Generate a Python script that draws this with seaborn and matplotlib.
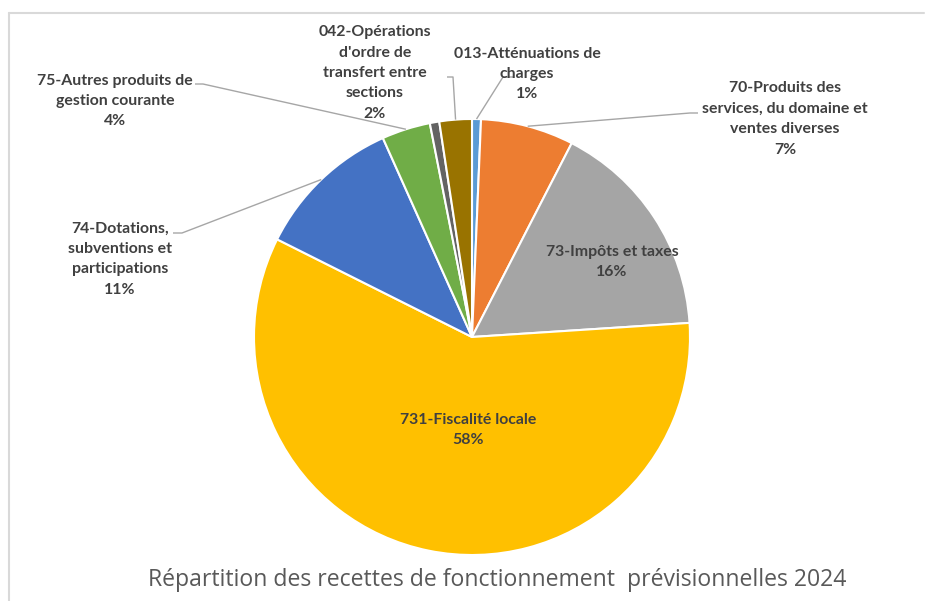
import numpy as np
import matplotlib
matplotlib.use("Agg")
import matplotlib.pyplot as plt
from matplotlib.lines import Line2D
import seaborn as sns

# data (shares of total, %)
categories = [
    "013-Atténuations de\ncharges",
    "70-Produits des\nservices, du domaine et\nventes diverses",
    "73-Impôts et taxes",
    "731-Fiscalité locale",
    "74-Dotations,\nsubventions et\nparticipations",
    "75-Autres produits de\ngestion courante",
    "",  # thin unlabeled slice
    "042-Opérations\nd'ordre de\ntransfert entre\nsections",
]
values = [0.66, 6.9, 16.4, 58.4, 10.9, 3.6, 0.7, 2.4]
colors = ["#5B9BD5", "#ED7D31", "#A5A5A5", "#FFC000",
          "#4472C4", "#70AD47", "#636363", "#997300"]
title = "Répartition des recettes de fonctionnement  prévisionnelles 2024"

# layout (pixels in the 925x601 image)
W, H = 925, 601
CX, CY, R = 472, 337, 218
label_pos = [(527, 74), (785, 119), (612, 262), (468, 430),
             (120, 259), (115, 101), None, (375, 73)]
# leader lines: (start, elbow) or None for labels inside the pie
leaders = [((513, 77), (503, 77)), ((698, 113), (690, 113)), None, None,
           ((173, 233), (182, 233)), ((195, 84), (203, 84)), None,
           ((447, 77), (453, 77))]


def px(p):
    return ((p[0] - CX) / R, (CY - p[1]) / R)


sns.set_theme(style="white")
plt.rcParams["font.family"] = ["Lato", "DejaVu Sans"]

fig = plt.figure(figsize=(W / 100, H / 100), dpi=100)
ax = fig.add_axes([(CX - R) / W, (H - CY - R) / H, 2 * R / W, 2 * R / H])

wedges, _ = ax.pie(values, colors=colors, startangle=90, counterclock=False,
                   radius=1.0, wedgeprops=dict(edgecolor="white", linewidth=1.5))
ax.set_xlim(-1, 1)
ax.set_ylim(-1, 1)
ax.axis("off")

total = sum(values)
for w, name, v, pos, ld in zip(wedges, categories, values, label_pos, leaders):
    if pos is None:
        continue
    txt = f"{name}\n{round(v / total * 100):.0f}%"
    x, y = px(pos)
    ax.text(x, y, txt, ha="center", va="center", fontsize=11.4,
            fontweight="bold", color="#404040", linespacing=1.58, clip_on=False)
    if ld is not None:
        ang = np.deg2rad((w.theta1 + w.theta2) / 2)
        end = (np.cos(ang), np.sin(ang))
        p0, p1 = px(ld[0]), px(ld[1])
        ax.plot([p0[0], p1[0], end[0]], [p0[1], p1[1], end[1]],
                color="#A6A6A6", lw=1, clip_on=False, solid_capstyle="butt")

fig.text(497 / W, 1 - 580 / H, title, ha="center", va="center",
         fontsize=16.6, color="#595959", family=["Open Sans", "DejaVu Sans"])

# chart frame (top and left edges visible)
fig.add_artist(Line2D([9 / W, 9 / W], [0, 1 - 13 / H], color="#D9D9D9", lw=1.5))
fig.add_artist(Line2D([9 / W, 924 / W], [1 - 13 / H, 1 - 13 / H], color="#D9D9D9", lw=1.5))

fig.savefig("out.png", dpi=100, facecolor="white")
